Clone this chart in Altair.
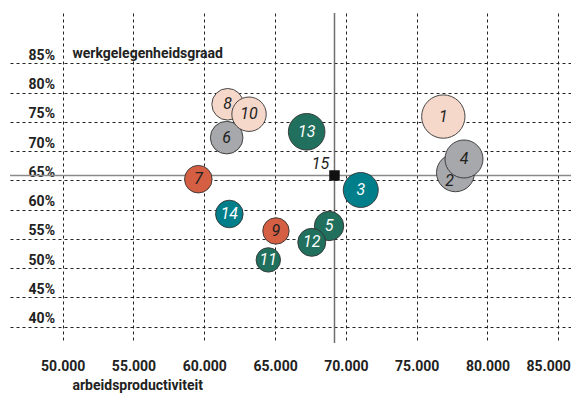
import altair as alt
import pandas as pd

# ---- data ----
ids = [str(i) for i in range(1, 15)]
productiviteit = [76880, 77740, 71050, 78340, 68810, 61580, 59580,
                  61650, 65060, 63160, 64520, 67590, 67230, 61770]
werkgelegenheid = [75.9, 66.3, 63.35, 68.65, 57.2, 72.3, 65.2,
                   78.0, 56.35, 76.3, 51.4, 54.4, 73.3, 59.25]
omvang = [470, 361, 306, 361, 216, 266, 190, 250, 174, 296, 149, 196, 335, 190]
groep = ["roze", "grijs", "blauw", "grijs", "groen", "grijs", "rood",
         "roze", "rood", "roze", "groen", "groen", "groen", "blauw"]

gem_id = ["15"]
gem_productiviteit = [69195]
gem_werkgelegenheid = [65.83]

x_ticks = [50000, 55000, 60000, 65000, 70000, 75000, 80000, 85000]
y_ticks = [40, 45, 50, 55, 60, 65, 70, 75, 80, 85]

groep_domein = ["roze", "grijs", "blauw", "groen", "rood"]
groep_kleuren = ["#f6d8cb", "#a7a8ab", "#007f8b", "#21705d", "#d45f42"]

df = pd.DataFrame({"id": ids, "prod": productiviteit, "wg": werkgelegenheid,
                   "omvang": omvang, "groep": groep})
gem = pd.DataFrame({"id": gem_id, "prod": gem_productiviteit, "wg": gem_werkgelegenheid})

FONT = "Roboto"
TXT = "#222222"

xscale = alt.Scale(domain=[46280, 85897], nice=False, zero=False)
yscale = alt.Scale(domain=[37.2, 93.6], nice=False, zero=False)

xaxis = alt.Axis(values=x_ticks, grid=True, gridDash=[3, 3], gridColor="#222222",
                 gridWidth=1, domain=False, ticks=False,
                 labelExpr="replace(format(datum.value, ','), ',', '.')",
                 labelFont=FONT, labelFontWeight="bold", labelFontSize=14,
                 labelColor=TXT, labelPadding=16,
                 labelFlush=15, labelFlushOffset=12,
                 title="arbeidsproductiviteit", titleFont=FONT, titleFontWeight="bold",
                 titleFontSize=14, titleColor=TXT, titleAlign="left",
                 titleAnchor="start", titleX=62, titleY=46, titleBaseline="alphabetic")

yaxis = alt.Axis(values=y_ticks, grid=True, gridDash=[3, 3], gridColor="#222222",
                 gridWidth=1, domain=False, ticks=False,
                 labelExpr="datum.value + '%'",
                 labelFont=FONT, labelFontWeight="bold", labelFontSize=14,
                 labelColor=TXT, labelPadding=-44.5, labelAlign="right",
                 labelBaseline="alphabetic", labelOffset=-4,
                 title="werkgelegenheidsgraad", titleFont=FONT, titleFontWeight="bold",
                 titleFontSize=14, titleColor=TXT, titleAngle=0, titleAlign="left",
                 titleBaseline="middle", titleX=62, titleY=40)

base_x = alt.X("prod:Q", scale=xscale, axis=xaxis)
base_y = alt.Y("wg:Q", scale=yscale, axis=yaxis)

vrule = alt.Chart(gem).mark_rule(color="#6e6e6e", strokeWidth=1.5).encode(
    x=alt.X("prod:Q", scale=xscale, axis=xaxis))
hrule = alt.Chart(gem).mark_rule(color="#8a8a8a", strokeWidth=1.5).encode(
    y=alt.Y("wg:Q", scale=yscale, axis=yaxis))

bubbles = alt.Chart(df).mark_circle(opacity=1, stroke="#333333", strokeWidth=0.9).encode(
    x=base_x, y=base_y,
    size=alt.Size("omvang:Q", scale=alt.Scale(type="linear", domain=[0, 500],
                                              range=[0, 2000]), legend=None),
    color=alt.Color("groep:N", scale=alt.Scale(domain=groep_domein, range=groep_kleuren),
                    legend=None),
    order=alt.Order("id_num:Q"),
).transform_calculate(id_num="toNumber(datum.id)")

square = alt.Chart(gem).mark_square(size=110, color="#111111", opacity=1).encode(
    x=base_x, y=base_y)
square_lbl = alt.Chart(gem).mark_text(font=FONT, fontStyle="italic", fontSize=16,
                                      color=TXT, dx=-14, dy=-11).encode(
    x=base_x, y=base_y, text="id:N")

lbl_style = dict(font=FONT, fontStyle="italic", fontSize=16, align="center",
                 baseline="middle")
light_lbl = alt.Chart(df).mark_text(color="#ffffff", **lbl_style).encode(
    x=base_x, y=base_y, text="id:N"
).transform_filter("indexof(['blauw','groen'], datum.groep) >= 0")
dark_lbl = alt.Chart(df).mark_text(color=TXT, **lbl_style).encode(
    x=base_x, y=base_y, text="id:N"
).transform_filter("indexof(['blauw','groen'], datum.groep) < 0 && datum.id != '2'")
lbl_two = alt.Chart(df).mark_text(color=TXT, dx=-6, dy=8, **lbl_style).encode(
    x=base_x, y=base_y, text="id:N"
).transform_filter("datum.id == '2'")

chart = alt.layer(vrule, hrule, bubbles, square, square_lbl, light_lbl, dark_lbl, lbl_two
).properties(
    width=561, height=330,
    autosize=alt.AutoSizeParams(type="none"),
    padding={"left": 2, "top": 5, "right": 0, "bottom": 50},
    background="white",
).configure_view(stroke=None)

chart.save("out.html", embed_options={"renderer": "svg", "actions": False})
